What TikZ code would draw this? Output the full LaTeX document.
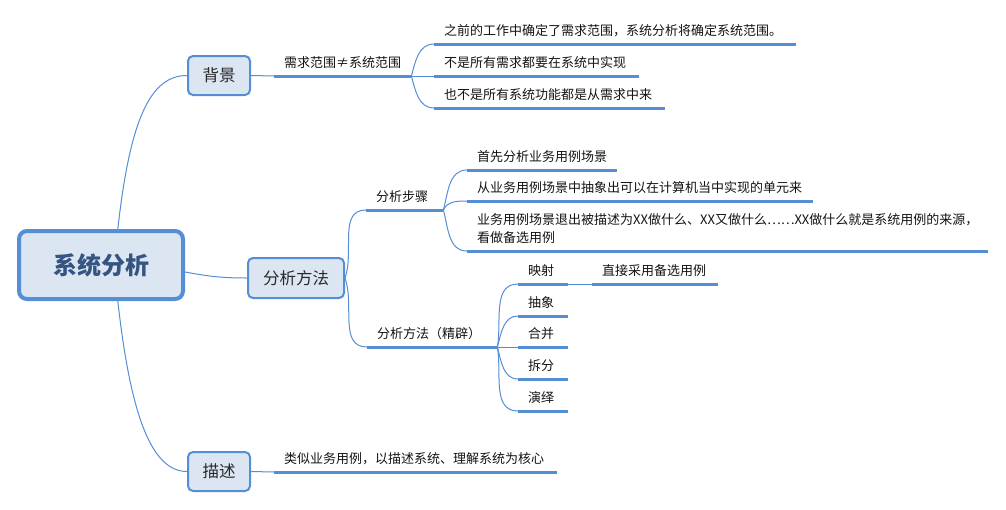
\documentclass[tikz,border=0pt]{standalone}
\usepackage{fontspec}
\setmainfont{Noto Sans CJK SC}
\newfontfamily\cjk{Noto Sans CJK SC}
\usetikzlibrary{calc}
\definecolor{lineblue}{RGB}{85,142,213}
\definecolor{fillblue}{RGB}{220,230,242}
\definecolor{ctext}{RGB}{52,84,130}
\definecolor{ntext}{RGB}{40,40,40}
\definecolor{ttext}{RGB}{20,20,20}
\tikzset{
 central/.style={draw=lineblue, line width=4pt, fill=fillblue, rounded corners=8pt,
   minimum width=164pt, minimum height=68pt, inner sep=0pt, text=ctext,
   font=\cjk\bfseries\fontsize{24}{28}\selectfont},
 mainbox/.style={draw=lineblue, line width=2pt, fill=fillblue, rounded corners=5pt,
   inner sep=0pt, minimum height=39pt, text=ntext, font=\cjk\fontsize{16.5}{20}\selectfont},
 topic/.style={anchor=south west, inner xsep=10pt, inner ysep=0pt, text width=#1,
   align=left, text depth=8.5pt, text=ttext, font=\cjk\fontsize{13}{18}\selectfont},
 uline/.style={draw=lineblue, line width=3pt},
 conn/.style={draw=lineblue, line width=1pt},
}
\begin{document}
\begin{tikzpicture}[x=1pt,y=-1pt]
\fill[white] (0,0) rectangle (1006,509);
\useasboundingbox (0,0) rectangle (1006,509);

% main nodes
\node[central] (ct) at (101,265) {系统分析};
\node[mainbox, minimum width=62pt] (bj) at (219,75.5) {背景};
\node[mainbox, minimum width=96pt, minimum height=40pt] (ff) at (296,278) {分析方法};
\node[mainbox, minimum width=62pt] (ms) at (219,471.5) {描述};

% topics
\node[topic=117pt] (t1) at (274,76) {\mbox{需求范围≠系统范围}};
\node[topic=342pt] (t1a) at (434,44) {\mbox{之前的工作中确定了需求范围，系统分析将确定系统范围。}};
\node[topic=185pt] (t1b) at (434,76) {\mbox{不是所有需求都要在系统中实现}};
\node[topic=211pt] (t1c) at (434,108) {\mbox{也不是所有系统功能都是从需求中来}};

\node[topic=57pt] (s1) at (366,210) {\mbox{分析步骤}};
\node[topic=130pt] (s1a) at (467,170) {\mbox{首先分析业务用例场景}};
\node[topic=326pt] (s1b) at (467,201) {\mbox{从业务用例场景中抽象出可以在计算机当中实现的单元来}};
\node[topic=501pt, text depth=26.5pt] (s1c) at (467,251) {\mbox{业务用例场景退出被描述为XX做什么、XX又做什么……XX做什么就是系统用例的来源，}\\\mbox{看做备选用例}};

\node[topic=110pt] (s2) at (367,347) {\mbox{分析方法（精辟）}};
\node[topic=30pt] (s2a) at (518,284) {\mbox{映射}};
\node[topic=30pt] (s2b) at (518,316) {\mbox{抽象}};
\node[topic=30pt] (s2c) at (518,347) {\mbox{合并}};
\node[topic=30pt] (s2d) at (518,379) {\mbox{拆分}};
\node[topic=30pt] (s2e) at (518,411) {\mbox{演绎}};
\node[topic=106pt] (s2a1) at (592,284) {\mbox{直接采用备选用例}};

\node[topic=263pt] (m1) at (274,472) {\mbox{类似业务用例，以描述系统、理解系统为核心}};

% underlines
\foreach \n in {t1,t1a,t1b,t1c,s1,s1a,s1b,s1c,s2,s2a,s2b,s2c,s2d,s2e,s2a1,m1}
  \draw[uline] (\n.south west) -- (\n.south east);

% connectors from central node
\draw[conn] ($(ct.north west)!0.6!(ct.north east)$) .. controls (130,120) and (150,75.5) .. (bj.west);
\draw[conn] ($(ct.south west)!0.6!(ct.south east)$) .. controls (130,410) and (150,471.5) .. (ms.west);
\draw[conn] ($(ct.east)+(0,7)$) .. controls (212,277) and (225,278) .. (ff.west);

% 背景 branch
\draw[conn] (bj.east) -- (t1.south west);
\draw[conn] (t1.south east) to[out=75,in=180] (t1a.south west);
\draw[conn] (t1.south east) -- (t1b.south west);
\draw[conn] (t1.south east) to[out=-75,in=180] (t1c.south west);

% 分析方法 branch
\draw[conn] (ff.east) to[out=70,in=180] (s1.south west);
\draw[conn] (ff.east) to[out=-70,in=180] (s2.south west);
\draw[conn] (s1.south east) to[out=75,in=180] (s1a.south west);
\draw[conn] (s1.south east) to[out=65,in=180] (s1b.south west);
\draw[conn] (s1.south east) to[out=-75,in=180] (s1c.south west);
\draw[conn] (s2.south east) to[out=80,in=180] (s2a.south west);
\draw[conn] (s2.south east) to[out=75,in=180] (s2b.south west);
\draw[conn] (s2.south east) -- (s2c.south west);
\draw[conn] (s2.south east) to[out=-75,in=180] (s2d.south west);
\draw[conn] (s2.south east) to[out=-80,in=180] (s2e.south west);
\draw[conn] (s2a.south east) -- (s2a1.south west);

% 描述 branch
\draw[conn] (ms.east) -- (m1.south west);
\end{tikzpicture}
\end{document}
